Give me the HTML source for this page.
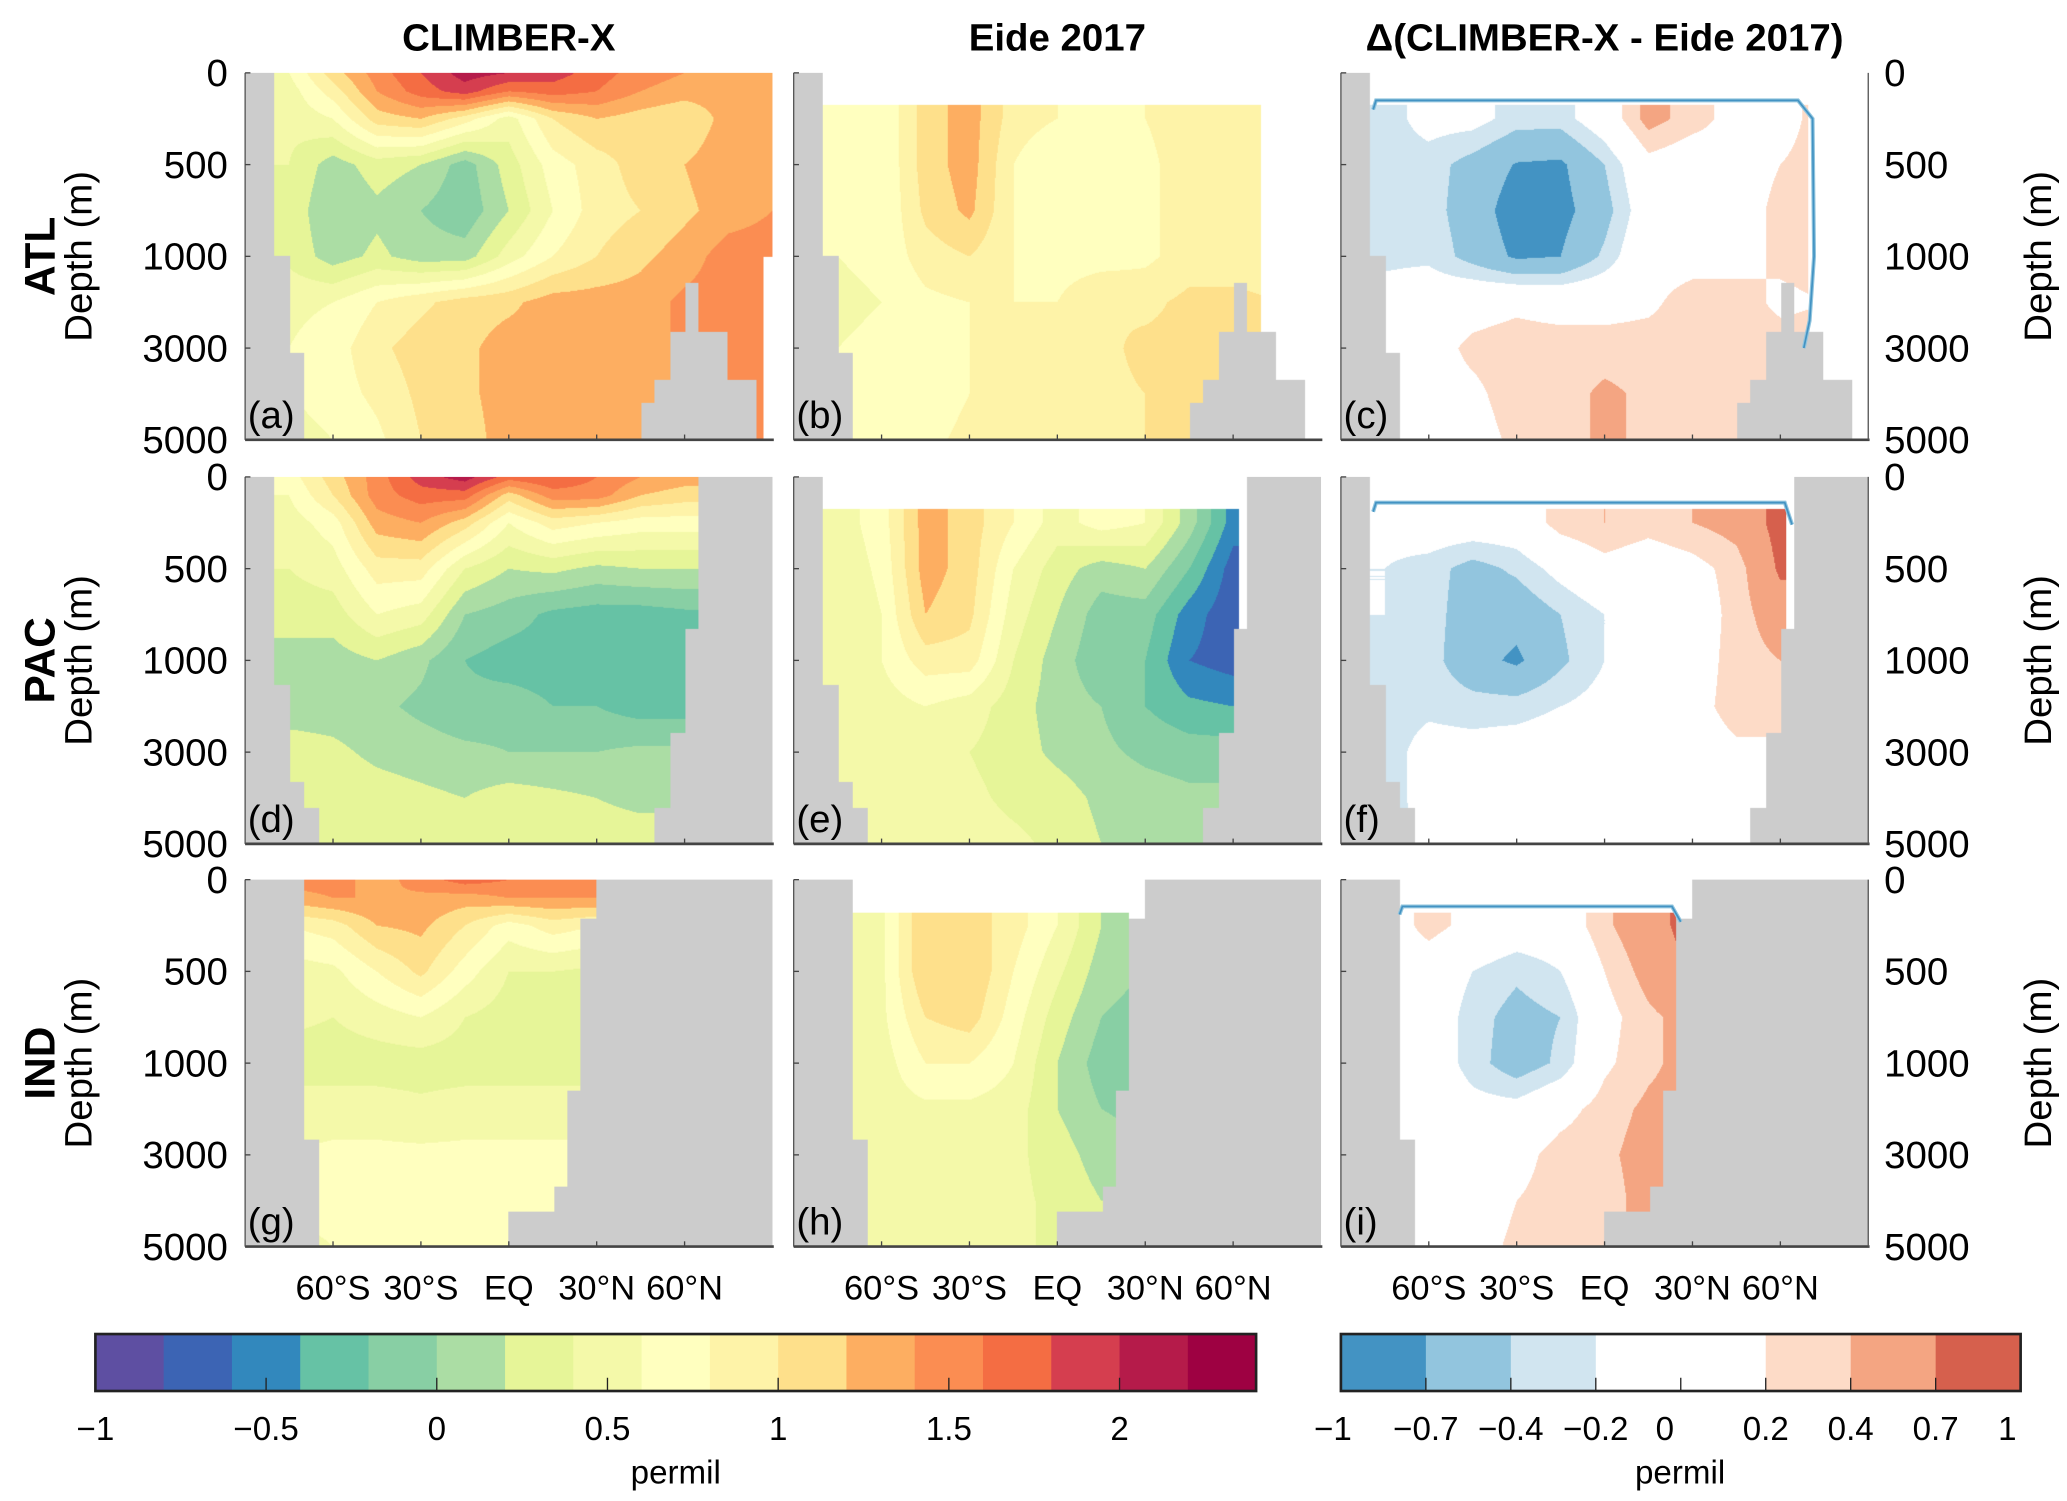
<!DOCTYPE html>
<html>
<head>
<meta charset="utf-8">
<style>
html,body{margin:0;padding:0;background:#fff;overflow:hidden;}
body{width:2067px;height:1501px;}
#stage{position:absolute;left:0;top:0;width:1560px;height:1133px;transform-origin:0 0;transform:scale(1.325,1.32477);font-family:"Liberation Sans","DejaVu Sans",sans-serif;}
canvas{position:absolute;width:398px;height:277px;}
svg{position:absolute;left:0;top:0;}
</style>
</head>
<body>
<div id="stage">
<canvas id="pa" style="left:185px;top:55px"></canvas>
<canvas id="pb" style="left:599px;top:55px"></canvas>
<canvas id="pc" style="left:1012px;top:55px"></canvas>
<canvas id="pd" style="left:185px;top:360px"></canvas>
<canvas id="pe" style="left:599px;top:360px"></canvas>
<canvas id="pf" style="left:1012px;top:360px"></canvas>
<canvas id="pg" style="left:185px;top:664px"></canvas>
<canvas id="ph" style="left:599px;top:664px"></canvas>
<canvas id="pi" style="left:1012px;top:664px"></canvas>
<svg id="ov" width="1560" height="1133" viewBox="0 0 1560 1133"></svg>
</div>
<script>
// ---- data ----
const lats = [-90,-75,-60,-45,-30,-15,0,15,30,45,60,75,90];
const depths = [0,100,250,500,750,1000,2000,3000,4000,5000];
const depthTicks = [0,500,1000,3000,5000];
const latTicks = [-60,-30,0,30,60];
const latTickLabels = ["60°S","30°S","EQ","30°N","60°N"];
const cbTicks = [-1,-0.5,0,0.5,1,1.5,2];
const diffTicks = [-1,-0.7,-0.4,-0.2,0,0.2,0.4,0.7,1];
const spectralColors = ["#5e4fa2","#3c64b4","#3288bd","#66c2a5","#88cfa4","#abdda4","#e6f598","#f4f9a9","#ffffbf","#fef3a8","#fee08b","#fdae61","#fb8d52","#f46d43","#d53e4f","#b51b4a","#9e0142"];
const diffBounds = [-1,-0.7,-0.4,-0.2,0,0.2,0.4,0.7,1];
const diffColors = ["#4393c3","#92c5de","#d1e5f0","#ffffff","#ffffff","#fddbc7","#f4a582","#d6604d"];

const atlClimber = [
[0.6,0.6,1.1,1.5,1.8,2.1,2.0,1.9,1.7,1.5,1.4,1.35,1.4],
[0.5,0.5,0.9,1.4,1.7,1.9,1.6,1.7,1.6,1.4,1.3,1.3,1.4],
[0.45,0.45,0.6,1.1,1.2,0.9,0.5,1.0,1.2,1.1,1.0,1.3,1.4],
[0.4,0.4,0.1,0.3,0.2,-0.1,0.3,0.7,0.9,1.1,1.2,1.35,1.4],
[0.35,0.35,0.0,0.15,0.0,-0.15,0.2,0.6,0.9,1.0,1.15,1.3,1.4],
[0.35,0.35,0.1,0.25,0.1,0.1,0.5,0.8,1.0,1.15,1.3,1.5,1.5],
[0.55,0.55,0.6,0.8,0.95,1.1,1.15,1.3,1.3,1.3,1.45,1.5,1.5],
[0.6,0.6,0.7,0.95,1.1,1.15,1.3,1.3,1.3,1.3,1.45,1.55,1.5],
[0.6,0.6,0.7,0.85,1.05,1.15,1.3,1.3,1.3,1.3,1.4,1.45,1.5],
[0.5,0.5,0.6,0.75,1.0,1.1,1.3,1.3,1.3,1.3,1.4,1.45,1.5]];
const atlEide = [
[0.7,0.7,0.6,1.1,1.3,0.9,0.8,0.7,0.8,0.9,0.9,0.9,0.9],
[0.7,0.7,0.6,1.1,1.3,0.9,0.8,0.7,0.8,0.9,0.9,0.9,0.9],
[0.7,0.7,0.6,1.1,1.3,0.9,0.8,0.7,0.8,0.9,0.9,0.9,0.9],
[0.65,0.65,0.6,1.1,1.3,0.8,0.6,0.7,0.75,0.9,0.9,0.9,0.9],
[0.65,0.65,0.6,1.05,1.25,0.8,0.65,0.7,0.75,0.9,0.9,0.9,0.9],
[0.6,0.6,0.65,0.9,1.0,0.8,0.7,0.7,0.75,0.9,0.9,0.9,0.9],
[0.55,0.55,0.6,0.75,0.8,0.8,0.8,1.0,0.95,1.05,1.05,1.0,1.0],
[0.6,0.6,0.65,0.7,0.8,0.9,0.85,0.95,1.05,1.05,1.1,1.0,1.0],
[0.6,0.6,0.65,0.7,0.8,0.9,0.9,0.95,1.0,1.05,1.05,1.0,1.0],
[0.65,0.65,0.7,0.75,0.85,0.9,0.9,0.95,1.0,1.05,1.05,1.0,1.0]];
const atlDiff = [
[-0.3,-0.3,-0.1,-0.1,-0.3,-0.3,0,0.5,0.3,0.1,0.1,0.3,0.3],
[-0.3,-0.3,-0.1,-0.1,-0.3,-0.3,0,0.5,0.3,0.1,0.1,0.3,0.3],
[-0.3,-0.3,-0.1,-0.1,-0.3,-0.3,0,0.5,0.3,0.1,0.1,0.3,0.3],
[-0.3,-0.3,-0.3,-0.5,-0.72,-0.75,-0.4,0.1,0,0.1,0.2,0.3,0.3],
[-0.3,-0.3,-0.3,-0.55,-0.85,-0.8,-0.5,0,0,0.1,0.25,0.3,0.3],
[-0.25,-0.25,-0.25,-0.5,-0.75,-0.7,-0.35,0.1,0.1,0.1,0.25,0.3,0.3],
[-0.1,-0.1,0,0.1,0.15,0.1,0.1,0.15,0.3,0.3,0.15,0.2,0.2],
[0,0,0.1,0.25,0.3,0.3,0.3,0.3,0.3,0.3,0.3,0.3,0.3],
[0,0,0.1,0.15,0.3,0.3,0.45,0.35,0.3,0.3,0.3,0.3,0.3],
[0,0,0.05,0.1,0.25,0.3,0.45,0.35,0.3,0.25,0.25,0.25,0.25]];
const pacClimber = [
[0.7,0.7,1.1,1.5,1.9,2.1,1.7,1.8,1.6,1.4,1.3,1.3,1.3],
[0.6,0.6,1.0,1.5,1.7,1.7,1.1,1.5,1.5,1.2,1.1,1.1,1.1],
[0.5,0.5,0.7,1.3,1.4,1.1,0.6,0.9,0.8,0.7,0.7,0.7,0.7],
[0.4,0.4,0.5,0.9,0.9,0.4,0.2,0.25,0.15,0.2,0.2,0.2,0.2],
[0.3,0.3,0.3,0.6,0.5,0,-0.1,-0.25,-0.3,-0.3,-0.25,-0.25,-0.25],
[0.1,0.1,0.1,0.2,0.05,-0.2,-0.3,-0.3,-0.3,-0.35,-0.3,-0.3,-0.3],
[0.1,0.1,0.1,0.05,-0.05,-0.15,-0.1,-0.2,-0.2,-0.3,-0.3,-0.3,-0.3],
[0.3,0.3,0.25,0.15,0.1,0.05,0,0,0,0.05,0.05,0.05,0.05],
[0.3,0.3,0.35,0.3,0.25,0.2,0.3,0.25,0.2,0.15,0.15,0.15,0.15],
[0.3,0.3,0.35,0.3,0.3,0.3,0.3,0.3,0.3,0.3,0.3,0.3,0.3]];
const pacEide = [
[0.5,0.5,0.7,1.3,1.1,0.8,0.5,0.7,0.6,0.1,-0.5,-0.5,-0.5],
[0.5,0.5,0.7,1.3,1.1,0.8,0.5,0.7,0.6,0.1,-0.5,-0.5,-0.5],
[0.5,0.5,0.7,1.3,1.1,0.8,0.5,0.7,0.6,0.1,-0.5,-0.5,-0.5],
[0.45,0.45,0.65,1.3,1.1,0.6,0.3,0.1,0.2,-0.2,-0.7,-0.7,-0.7],
[0.4,0.4,0.6,1.2,1.05,0.5,0.2,-0.1,-0.1,-0.5,-0.75,-0.75,-0.75],
[0.4,0.4,0.6,0.9,0.9,0.4,0.1,-0.15,-0.2,-0.6,-0.7,-0.7,-0.7],
[0.45,0.45,0.5,0.6,0.5,0.3,0.1,0,-0.2,-0.35,-0.4,-0.4,-0.4],
[0.5,0.5,0.5,0.45,0.4,0.3,0.15,0.05,-0.05,-0.1,-0.1,-0.1,-0.1],
[0.55,0.55,0.55,0.5,0.45,0.35,0.3,0.15,0.1,0.05,0.05,0.05,0.05],
[0.55,0.55,0.55,0.55,0.5,0.45,0.35,0.2,0.1,0.05,0.05,0.05,0.05]];
const pacDiff = [
[-0.1,-0.1,0,0,0,0.3,0.4,0.3,0.4,0.5,0.8,0.8,0.8],
[-0.1,-0.1,0,0,0,0.3,0.4,0.3,0.4,0.5,0.8,0.8,0.8],
[-0.1,-0.1,0,0,0,0.3,0.4,0.3,0.4,0.5,0.8,0.8,0.8],
[-0.2,-0.2,-0.3,-0.5,-0.35,-0.1,0.1,0,0.1,0.3,0.75,0.75,0.75],
[-0.2,-0.2,-0.3,-0.55,-0.6,-0.4,-0.2,0,0,0.3,0.55,0.55,0.55],
[-0.25,-0.25,-0.3,-0.6,-0.75,-0.45,-0.2,0,0.05,0.3,0.4,0.4,0.4],
[-0.3,-0.3,-0.25,-0.3,-0.3,-0.2,-0.1,0,0.1,0.3,0.3,0.3,0.3],
[-0.3,-0.3,-0.1,-0.1,-0.05,0,0,0,0.05,0.15,0.15,0.15,0.15],
[-0.3,-0.3,-0.1,0,0,0,0,0,0,0,0,0,0],
[-0.3,-0.3,-0.15,0,0,0,0,0,0,0,0,0,0]];
const indClimber = [
[1.5,1.5,1.5,1.3,1.5,1.7,1.6,1.5,1.5,1.5,1.5,1.5,1.5],
[1.3,1.3,1.4,1.4,1.35,1.3,1.4,1.4,1.4,1.4,1.4,1.4,1.4],
[0.8,0.8,0.9,1.2,1.25,1.0,0.7,0.9,0.8,0.8,0.8,0.8,0.8],
[0.5,0.5,0.55,0.8,1.05,0.7,0.4,0.4,0.35,0.35,0.35,0.35,0.35],
[0.45,0.45,0.4,0.5,0.6,0.4,0.3,0.25,0.3,0.3,0.3,0.3,0.3],
[0.3,0.3,0.3,0.3,0.3,0.3,0.3,0.3,0.3,0.3,0.3,0.3,0.3],
[0.5,0.5,0.5,0.5,0.45,0.5,0.5,0.5,0.5,0.5,0.5,0.5,0.5],
[0.6,0.6,0.65,0.65,0.65,0.65,0.65,0.65,0.65,0.65,0.65,0.65,0.65],
[0.65,0.65,0.65,0.65,0.65,0.65,0.65,0.65,0.65,0.65,0.65,0.65,0.65],
[0.55,0.55,0.6,0.65,0.65,0.65,0.65,0.65,0.65,0.65,0.65,0.65,0.65]];
const indEide = [
[0.5,0.5,0.55,1.2,1.1,0.9,0.6,0.2,0.1,0.1,0.1,0.1,0.1],
[0.5,0.5,0.55,1.2,1.1,0.9,0.6,0.2,0.1,0.1,0.1,0.1,0.1],
[0.5,0.5,0.55,1.2,1.1,0.9,0.6,0.2,0.1,0.1,0.1,0.1,0.1],
[0.5,0.5,0.55,1.2,1.2,0.8,0.45,0.1,0,0,0,0,0],
[0.55,0.55,0.55,1.0,1.1,0.7,0.3,0,-0.1,-0.1,-0.1,-0.1,-0.1],
[0.5,0.5,0.5,0.8,0.8,0.6,0.2,-0.1,-0.2,-0.2,-0.2,-0.2,-0.2],
[0.5,0.5,0.5,0.55,0.55,0.5,0.2,0,-0.05,-0.05,-0.05,-0.05,-0.05],
[0.5,0.5,0.5,0.5,0.5,0.45,0.3,0.1,0,0,0,0,0],
[0.5,0.5,0.5,0.5,0.5,0.45,0.35,0.2,0.2,0.2,0.2,0.2,0.2],
[0.5,0.5,0.5,0.5,0.5,0.45,0.35,0.3,0.3,0.3,0.3,0.3,0.3]];
const indDiff = [
[0,0,0.3,0.1,0,0,0.35,0.6,0.8,0.8,0.8,0.8,0.8],
[0,0,0.3,0.1,0,0,0.35,0.6,0.8,0.8,0.8,0.8,0.8],
[0,0,0.3,0.1,0,0,0.35,0.6,0.8,0.8,0.8,0.8,0.8],
[0,0,0,-0.2,-0.35,-0.2,0.2,0.5,0.75,0.75,0.75,0.75,0.75],
[0,0,0,-0.3,-0.5,-0.4,0.1,0.35,0.5,0.5,0.5,0.5,0.5],
[0,0,0,-0.3,-0.55,-0.35,0.15,0.35,0.5,0.5,0.5,0.5,0.5],
[0,0,0,-0.1,-0.1,0.1,0.3,0.45,0.5,0.5,0.5,0.5,0.5],
[0,0,0,0,0.1,0.3,0.35,0.5,0.5,0.5,0.5,0.5,0.5],
[0,0,0,0.05,0.2,0.3,0.3,0.5,0.5,0.5,0.5,0.5,0.5],
[0,0,0,0.1,0.25,0.3,0.3,0.5,0.5,0.5,0.5,0.5,0.5]];

// bathymetry: [lat0, lat1, top depth of land]
const landATL = [[-90,-80,0],[-80,-74.5,1000],[-74.5,-70,3100],[45.2,49.6,4200],[49.6,55,3700],[55,60.4,2640],[60.4,64.7,1580],[64.7,74.7,2640],[74.7,84.5,3700]];
const landPAC = [[-90,-80,0],[-80,-74.5,1530],[-74.5,-69.9,3640],[-69.9,-64.8,4220],[64.7,90,0],[60.4,64.7,828],[55,60.4,2576],[49.6,55,4220]];
const landIND = [[-90,-69.9,0],[-69.9,-64.8,2660],[29.8,90,0],[24.4,29.8,210],[20.1,24.4,1610],[15.4,20.1,3700],[0,15.4,4230]];
// observation coverage: [top depth, max lat]
const obsATL = [177,69.4];
const obsPAC = [175,62];
const obsIND = [180,24.4];

// ---- geometry ----
const PW=398, PH=277;
const colX=[185,599,1012], rowY=[55,360,664];
function yFrac(d){return d<=1000? 0.5*d/1000 : 0.5+0.5*(d-1000)/4000;}
function depthFromFrac(f){return f<=0.5? f*2000 : 1000+(f-0.5)*8000;}
function xFrac(lat){return (lat+90)/180;}

function hex(c){return [parseInt(c.slice(1,3),16),parseInt(c.slice(3,5),16),parseInt(c.slice(5,7),16)];}
const specRGB=spectralColors.map(hex), diffRGB=diffColors.map(hex);
function specColor(v){let k=Math.floor((v+1)/0.2+1e-9);k=Math.max(0,Math.min(16,k));return specRGB[k];}
function diffColor(v){let k=0;while(k<7&&v>=diffBounds[k+1])k++;return diffRGB[k];}

function sample(grid,lat,d){
  let fi=(lat+90)/15; let i=Math.min(11,Math.max(0,Math.floor(fi))); let tx=Math.min(1,Math.max(0,fi-i));
  let j=0; while(j<depths.length-2 && d>depths[j+1]) j++;
  let ty=(d-depths[j])/(depths[j+1]-depths[j]); ty=Math.min(1,Math.max(0,ty));
  const a=grid[j][i],b=grid[j][i+1],c=grid[j+1][i],e=grid[j+1][i+1];
  return (a*(1-tx)+b*tx)*(1-ty)+(c*(1-tx)+e*tx)*ty;
}
function isLand(land,lat,d){for(const L of land){if(lat>=L[0]&&lat<L[1]&&d>=L[2])return true;}return false;}

function drawPanel(id,grid,land,kind,obs,extraNaN){
  const cv=document.getElementById(id);
  const S=1.325; const W=Math.round(PW*S), H=Math.round(PH*S);
  cv.width=W; cv.height=H;
  const ctx=cv.getContext('2d'); const img=ctx.createImageData(W,H);
  for(let py=0;py<H;py++){
    const d=depthFromFrac((py+0.5)/H);
    for(let px=0;px<W;px++){
      const lat=(px+0.5)/W*180-90;
      let col;
      if(isLand(land,lat,d)) col=[204,204,204];
      else if(obs && (d<obs[0]||lat>obs[1])) col=[255,255,255];
      else if(extraNaN && extraNaN(lat,d)) col=[255,255,255];
      else { const v=sample(grid,lat,d); col= kind==='diff'?diffColor(v):specColor(v); }
      const o=(py*W+px)*4; img.data[o]=col[0];img.data[o+1]=col[1];img.data[o+2]=col[2];img.data[o+3]=255;
    }
  }
  ctx.putImageData(img,0,0);
}
drawPanel('pa',atlClimber,landATL,'spec',null,(lat,d)=>lat>87&&d>1000);
drawPanel('pb',atlEide,landATL,'spec',obsATL);
drawPanel('pc',atlDiff,landATL,'diff',obsATL);
drawPanel('pd',pacClimber,landPAC,'spec',null);
drawPanel('pe',pacEide,landPAC,'spec',obsPAC);
drawPanel('pf',pacDiff,landPAC,'diff',obsPAC);
drawPanel('pg',indClimber,landIND,'spec',null);
drawPanel('ph',indEide,landIND,'spec',obsIND);
drawPanel('pi',indDiff,landIND,'diff',obsIND);

// ---- overlay ----
const NS='http://www.w3.org/2000/svg';
const ov=document.getElementById('ov');
function el(tag,attrs,txt){const e=document.createElementNS(NS,tag);for(const k in attrs)e.setAttribute(k,attrs[k]);if(txt!==undefined)e.textContent=txt;ov.appendChild(e);return e;}

const titles=["CLIMBER-X","Eide 2017","Δ(CLIMBER-X - Eide 2017)"];
const titleNames=["title-climber-x","title-eide-2017","title-difference"];
for(let c=0;c<3;c++){
  const t=el('text',{x:colX[c]+PW/2,y:38,'text-anchor':'middle','font-size':29,'font-weight':'bold',fill:'#000'},titles[c]);
  
  
}
const basins=["ATL","PAC","IND"];
const letters=[["(a)","(b)","(c)"],["(d)","(e)","(f)"],["(g)","(h)","(i)"]];
for(let r=0;r<3;r++){
  const y0=rowY[r];
  const bl=el('text',{x:0,y:0,transform:`translate(41,${y0+PH/2}) rotate(-90)`,'text-anchor':'middle','font-size':32,'font-weight':'bold'},basins[r]);
  
  
  const yl=el('text',{x:0,y:0,transform:`translate(69,${y0+PH/2}) rotate(-90)`,'text-anchor':'middle','font-size':29},'Depth (m)');
  
  
  const yr=el('text',{x:0,y:0,transform:`translate(1548,${y0+PH/2}) rotate(-90)`,'text-anchor':'middle','font-size':29},'Depth (m)');
  
  
  for(const d of depthTicks){
    const yy=y0+yFrac(d)*PH;
    const tl=el('text',{x:172,y:yy+10,'text-anchor':'end','font-size':29},String(d));
    
    
    const tr=el('text',{x:1422,y:yy+10,'text-anchor':'start','font-size':29},String(d));
    
    
  }
  for(let c=0;c<3;c++){
    const x0=colX[c];
    const ax=el('line',{x1:x0,y1:y0+PH,x2:x0+PW+1,y2:y0+PH,stroke:'#444','stroke-width':2});
    
    
    const lax=el('line',{x1:x0,y1:y0,x2:x0,y2:y0+PH,stroke:'#555','stroke-width':1});
    
    
    if(c===2){
      const rax=el('line',{x1:x0+PW,y1:y0,x2:x0+PW,y2:y0+PH,stroke:'#555','stroke-width':1});
      
      
    }
    for(const lt of latTicks){
      const xx=x0+xFrac(lt)*PW;
      const tk=el('line',{x1:xx,y1:y0+PH,x2:xx,y2:y0+PH-4,stroke:'#444','stroke-width':1});
      
      
    }
    for(const d of depthTicks){
      const yy=y0+yFrac(d)*PH;
      const tk=el('line',{x1:x0,y1:yy,x2:x0+4,y2:yy,stroke:'#444','stroke-width':1});
      
      
    }
    const pl=el('text',{x:x0+2,y:y0+PH-9,'font-size':29},letters[r][c]);
    
    
  }
}
// blue boundary artefact lines in diff panels
const edgeATL=[[-79,200],[-78,150],[66,150],[71,250],[71.5,1000],[70,2400],[68,3000]];
const edgePAC=[[-79,190],[-78,140],[61.5,140],[64,260]];
const edgeIND=[[-70,190],[-69,146],[23,146],[26,230]];
const edges=[edgeATL,edgePAC,edgeIND];
for(let r=0;r<3;r++){
  const pts=edges[r].map(p=>`${colX[2]+xFrac(p[0])*PW},${rowY[r]+yFrac(p[1])*PH}`).join(' ');
  const l1=el('polyline',{points:pts,fill:'none',stroke:'#92c5de','stroke-width':3});
  
  
  const l2=el('polyline',{points:pts,fill:'none',stroke:'#4393c3','stroke-width':1.3});
  
  
}
for(let c=0;c<3;c++){
  for(let k=0;k<latTicks.length;k++){
    const xx=colX[c]+xFrac(latTicks[k])*PW;
    const t=el('text',{x:xx,y:981,'text-anchor':'middle','font-size':26},latTickLabels[k]);
    
    
  }
}
// colorbar 1
const cb1x0=72,cb1x1=948,cbY=1007,cbH=43;
const nb=spectralColors.length, bw=(cb1x1-cb1x0)/nb;
for(let k=0;k<nb;k++){
  const rr=el('rect',{x:cb1x0+k*bw,y:cbY,width:bw+0.5,height:cbH,fill:spectralColors[k]});
  
  
}
const cb1=el('rect',{x:cb1x0,y:cbY,width:cb1x1-cb1x0,height:cbH,fill:'none',stroke:'#222','stroke-width':2});


for(const v of cbTicks){
  const xx=cb1x0+(v+1)/0.2*bw;
  const tk=el('line',{x1:xx,y1:cbY+cbH,x2:xx,y2:cbY+cbH-10,stroke:'#222','stroke-width':1});
  
  
  const tl=el('text',{x:xx,y:1087,'text-anchor':'middle','font-size':25},String(v).replace('-','−'));
  
  
}
const pm1=el('text',{x:510,y:1120,'text-anchor':'middle','font-size':25},'permil');


// colorbar 2
const cb2x0=1012,cb2x1=1525;
const nb2=diffColors.length, bw2=(cb2x1-cb2x0)/nb2;
for(let k=0;k<nb2;k++){
  const rr=el('rect',{x:cb2x0+k*bw2,y:cbY,width:bw2+0.5,height:cbH,fill:diffColors[k]});
  
  
}
const cb2=el('rect',{x:cb2x0,y:cbY,width:cb2x1-cb2x0,height:cbH,fill:'none',stroke:'#222','stroke-width':2});


for(let k=0;k<diffTicks.length;k++){
  const xx=cb2x0+k*bw2;
  const tk=el('line',{x1:xx,y1:cbY+cbH,x2:xx,y2:cbY+cbH-10,stroke:'#222','stroke-width':1});
  
  
  let lx=xx; if(diffTicks[k]===0) lx=xx-12; if(diffTicks[k]===-1) lx=xx-6; if(diffTicks[k]===1) lx=xx-10;
  const tl=el('text',{x:lx,y:1087,'text-anchor':'middle','font-size':25},String(diffTicks[k]).replace('-','−'));
  
  
}
const pm2=el('text',{x:1268,y:1120,'text-anchor':'middle','font-size':25},'permil');


</script>
</body>
</html>
